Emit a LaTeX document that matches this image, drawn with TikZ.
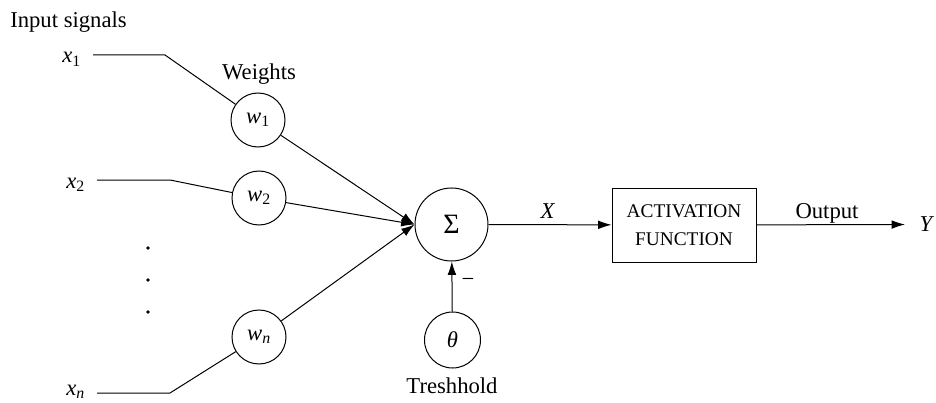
\documentclass[tikz,border=0pt]{standalone}
\usepackage{fontspec}
\setmainfont{Liberation Serif}
\usetikzlibrary{arrows.meta}
\begin{document}
\begin{tikzpicture}[x=0.75pt,y=-0.75pt,
  every node/.style={font=\fontsize{17}{20}\selectfont},
  ln/.style={line width=0.75pt},
  wc/.style={draw,circle,minimum size=40.5pt,inner sep=0pt,line width=0.75pt},
  arr/.style={ln,-{Latex[length=10pt,width=6.5pt]}},
  xlbl/.style={anchor=base east,inner sep=0pt,outer sep=9pt},
  txt/.style={anchor=base,inner sep=0pt}
]
\useasboundingbox (0,0) rectangle (936,403);
% text labels
\node[anchor=base west,inner sep=0pt] (inp) at (10,28) {Input signals};
\node[txt] (wts) at (259,80) {Weights};
\node[txt] (thr) at (452,393) {Treshhold};
\node[txt] (xl) at (548,218) {\textit{X}};
\node[txt] (outl) at (827,218) {Output};
\node[inner sep=0pt] (minus) at (468,282) {−};
% inputs
\node[xlbl] (x1) at (93,63) {\textit{x}\textsubscript{1}};
\node[xlbl] (x2) at (97,188) {\textit{x}\textsubscript{2}};
\node[xlbl] (xn) at (97,395) {\textit{x}\textsubscript{\textit{n}}};
\coordinate (b1) at (165,55);
\coordinate (b2) at (170,180);
\coordinate (bn) at (170,393);
% weights
\node[wc] (w1) at (258,120) {\textit{w}\textsubscript{1}};
\node[wc] (w2) at (259,198) {\textit{w}\textsubscript{2}};
\node[wc] (wn) at (259,337) {\textit{w}\textsubscript{\textit{n}}};
% summation, threshold, activation
\node[wc,minimum size=54.75pt] (sig) at (451.5,224.5) {\fontsize{21}{22}\selectfont Σ};
\node[wc,minimum size=42pt] (th) at (452.5,340) {\textit{θ}};
\node[draw,ln,minimum width=108pt,minimum height=55.5pt,align=center,
      font=\fontsize{14.5}{21}\selectfont] (act) at (684,225) {ACTIVATION\\FUNCTION};
\node[anchor=west,inner sep=0pt,outer sep=0pt,inner xsep=11pt] (Y) at (905,224.5) {\textit{Y}};
% dots
\foreach \yy in {248,280,312} \fill (148,\yy) circle (1.4pt);
% connectors
\draw[ln] (b1 -| x1.east) -- (b1) -- (w1);
\draw[ln] (b2 -| x2.east) -- (b2) -- (w2);
\draw[ln] (bn -| xn.east) -- (bn) -- (wn);
\draw[arr] (w1) -- (sig.west);
\draw[arr] (w2) -- (sig.west);
\draw[arr] (wn) -- (sig.west);
\draw[arr] (sig) -- (act);
\draw[arr] (th) -- (sig);
\draw[arr] (act) -- (Y);
\end{tikzpicture}
\end{document}
